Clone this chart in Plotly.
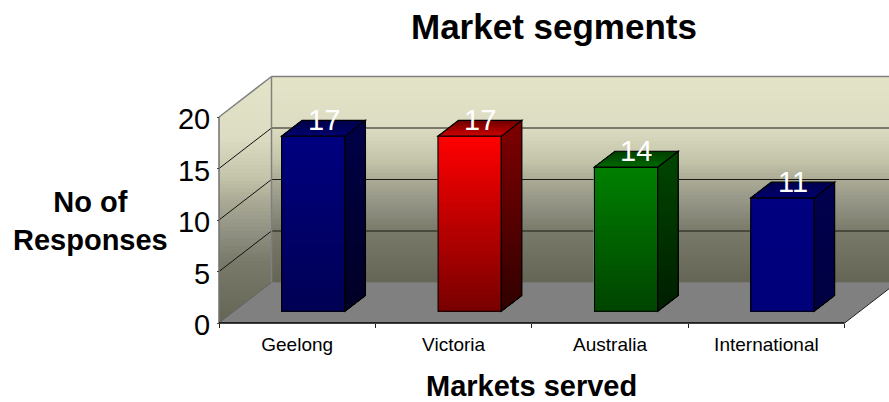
import plotly.graph_objects as go

# Chart content
title = "Market segments"
categories = ["Geelong", "Victoria", "Australia", "International"]
responses = [17, 17, 14, 11]
y_ticks = [0, 5, 10, 15, 20]
x_title = "Markets served"
y_title = "No of<br>Responses"

# Oblique projection: category units per unit of depth, value units per unit of depth
SKEW_X = 52.5 / 156.4
SKEW_Y = 40.5 / 10.3
GAP = 0.303
BAR_W = 0.405
DEPTH_FRONT, DEPTH_BACK = 0.29, 0.68

FACE_STOPS = {
    "blue":  dict(front=[(0, 0, 128), (0, 0, 84)], side=[(0, 0, 72), (0, 0, 36)], top=[(0, 0, 70), (0, 0, 112)]),
    "red":   dict(front=[(255, 0, 0), (120, 0, 0)], side=[(128, 0, 0), (48, 0, 0)], top=[(110, 0, 0), (205, 0, 0)]),
    "green": dict(front=[(0, 128, 0), (0, 68, 0)], side=[(0, 70, 0), (0, 30, 0)], top=[(0, 62, 0), (0, 105, 0)]),
    "navy":  dict(front=[(0, 0, 128), (0, 0, 122)], side=[(0, 0, 78), (0, 0, 66)], top=[(0, 0, 76), (0, 0, 112)]),
}
bar_styles = ["blue", "red", "green", "navy"]
WALL_STOPS = [(0.0, (228, 228, 201)), (0.25, (220, 220, 194)), (0.41, (196, 196, 170)),
              (0.50, (171, 171, 150)), (0.625, (146, 146, 132)), (0.75, (121, 122, 105)), (1.0, (100, 101, 85))]


def project(cat, value, depth=0.0):
    return cat + depth * SKEW_X, value + depth * SKEW_Y


def lerp_color(stops, t):
    for (t0, c0), (t1, c1) in zip(stops, stops[1:]):
        if t <= t1:
            f = 0 if t1 == t0 else (t - t0) / (t1 - t0)
            return "rgb(%d,%d,%d)" % tuple(round(a + (b - a) * f) for a, b in zip(c0, c1))
    return "rgb(%d,%d,%d)" % stops[-1][1]


def clip_below(poly, level):
    """Keep the part of a convex polygon at or under a horizontal level."""
    out = []
    for (x0, y0), (x1, y1) in zip(poly, poly[1:] + poly[:1]):
        if y0 <= level:
            out.append((x0, y0))
        if (y0 <= level) != (y1 <= level):
            f = (level - y0) / (y1 - y0)
            out.append((x0 + (x1 - x0) * f, level))
    return out


def to_path(poly):
    return "M" + "L".join(f"{x:.5f},{y:.5f}" for x, y in poly) + "Z"


def face(poly, layer, line=None, **style):
    return dict(type="path", path=to_path(poly), xref="x", yref="y", layer=layer,
                line=line or dict(width=0), **style)


def gradient(poly, stops, layer, bands=64):
    """Paint a polygon top-down; every band reaches the bottom so no seams appear."""
    top = max(p[1] for p in poly)
    bottom = min(p[1] for p in poly)
    shapes = []
    for i in range(bands):
        t = i / bands
        part = clip_below(poly, top + (bottom - top) * t)
        shapes.append(face(part, layer, fillcolor=lerp_color(stops, (i + 0.5) / bands)))
    return shapes


def segment(a, b, color, width=1.0, layer="below"):
    return dict(type="line", xref="x", yref="y", layer=layer, x0=a[0], y0=a[1], x1=b[0], y1=b[1],
                line=dict(color=color, width=width))


n = len(categories)
top_value = y_ticks[-1]
shapes = []

# Walls and floor
back_wall = [project(0, 0, 1), project(n, 0, 1), project(n, top_value, 1), project(0, top_value, 1)]
left_wall = [project(0, 0), project(0, 0, 1), project(0, top_value, 1), project(0, top_value)]
floor = [project(0, 0), project(n, 0), project(n, 0, 1), project(0, 0, 1)]
shapes += gradient(back_wall, WALL_STOPS, "below")
shapes += gradient(left_wall, WALL_STOPS, "below")

for tick in y_ticks[1:-1]:
    shapes.append(segment(project(0, tick), project(0, tick, 1), "#111111"))
    shapes.append(segment(project(0, tick, 1), project(n, tick, 1), "#1a1a14"))

shapes.append(face(floor, "below", fillcolor="#808080"))
GREY = "#808080"
shapes.append(segment(project(0, 0), project(0, top_value), "#707070", 1.5))
shapes.append(segment(project(0, top_value), project(0, top_value, 1), GREY, 1.5))
shapes.append(segment(project(0, top_value, 1), project(n, top_value, 1), GREY, 1.5))
shapes.append(segment(project(0, 0, 1), project(0, top_value, 1), GREY, 1.5))
shapes.append(segment(project(0, 0, 1), project(n, 0, 1), "#777777", 1))
shapes.append(segment(project(0, 0), project(0, 0, 1), "#666666", 1))
shapes.append(segment(project(n, 0), project(n, 0, 1), "#222222", 1))
shapes.append(segment(project(0, 0), project(n, 0), "#000000", 1.5))

# Bars: front, side and top faces, each derived from its value
for i, (value, style) in enumerate(zip(responses, bar_styles)):
    stops = FACE_STOPS[style]
    left, right = i + GAP, i + GAP + BAR_W
    fa = [project(left, 0, DEPTH_FRONT), project(right, 0, DEPTH_FRONT),
          project(right, value, DEPTH_FRONT), project(left, value, DEPTH_FRONT)]
    sd = [project(right, 0, DEPTH_FRONT), project(right, 0, DEPTH_BACK),
          project(right, value, DEPTH_BACK), project(right, value, DEPTH_FRONT)]
    tp = [project(left, value, DEPTH_FRONT), project(right, value, DEPTH_FRONT),
          project(right, value, DEPTH_BACK), project(left, value, DEPTH_BACK)]
    for poly, key in ((fa, "front"), (sd, "side"), (tp, "top")):
        pair = stops[key]
        shapes += gradient(poly, [(0.0, pair[0]), (1.0, pair[1])], "above", bands=32)
        shapes.append(face(poly, "above", line=dict(color="#000000", width=1.2), fillcolor="rgba(0,0,0,0)"))

fig = go.Figure()
# Base columns carry the values; the shaded faces are laid over them
fig.add_bar(
    x=[project(i + GAP + BAR_W / 2, 0, DEPTH_FRONT)[0] for i in range(n)],
    y=responses,
    base=project(0, 0, DEPTH_FRONT)[1],
    width=BAR_W,
    marker=dict(color=["rgb(%d,%d,%d)" % FACE_STOPS[s]["front"][0] for s in bar_styles]),
    hoverinfo="skip",
    showlegend=False,
)

FONT = "Liberation Sans"
annotations = []
for i, value in enumerate(responses):
    x, y = project(i + GAP + BAR_W / 2, value, (DEPTH_FRONT + DEPTH_BACK) / 2)
    annotations.append(dict(x=x, y=y, text=str(value), showarrow=False, yshift=8,
                            font=dict(family=FONT, size=29, color="white"),
                            xanchor="center", yanchor="middle"))

annotations += [
    dict(xref="paper", yref="paper", x=553.5 / 889, y=1 - 27 / 402, text=f"<b>{title}</b>", showarrow=False,
         font=dict(family=FONT, size=35, color="black"), xanchor="center", yanchor="middle"),
    dict(xref="paper", yref="paper", x=531.5 / 889, y=1 - 386 / 402, text=f"<b>{x_title}</b>", showarrow=False,
         font=dict(family=FONT, size=29, color="black"), xanchor="center", yanchor="middle"),
    dict(xref="paper", yref="paper", x=90 / 889, y=1 - 221 / 402, text=f"<b>{y_title}</b>", showarrow=False,
         font=dict(family=FONT, size=29, color="black"), xanchor="center", yanchor="middle", align="center"),
]

fig.update_layout(
    width=889, height=402,
    margin=dict(l=0, r=0, t=0, b=0),
    paper_bgcolor="white", plot_bgcolor="white",
    showlegend=False,
    shapes=shapes,
    annotations=annotations,
    bargap=0,
    xaxis=dict(
        range=[-219 / 156.4, (889 - 219) / 156.4],
        domain=[0, 1],
        anchor="free",
        position=(402 - 323) / 402,
        tickmode="array",
        tickvals=[i + 0.5 for i in range(n)],
        ticktext=categories,
        ticks="",
        ticklabelstandoff=8,
        tickfont=dict(family=FONT, size=19, color="black"),
        showgrid=False, zeroline=False, showline=False,
        minor=dict(tickmode="array", tickvals=list(range(n + 1)), ticks="outside", ticklen=4,
                   tickcolor="#222222", tickwidth=1, showgrid=False),
    ),
    yaxis=dict(
        range=[-(402 - 323) / 10.3, 323 / 10.3],
        domain=[0, 1],
        anchor="free",
        position=219 / 889,
        tickmode="array",
        tickvals=y_ticks,
        ticks="outside", ticklen=2, tickcolor="#444444", tickwidth=1,
        ticklabelstandoff=1,
        ticklabelshift=2,
        tickfont=dict(family=FONT, size=29, color="black"),
        showgrid=False, zeroline=False, showline=False,
    ),
)

fig.write_html("out.html")
